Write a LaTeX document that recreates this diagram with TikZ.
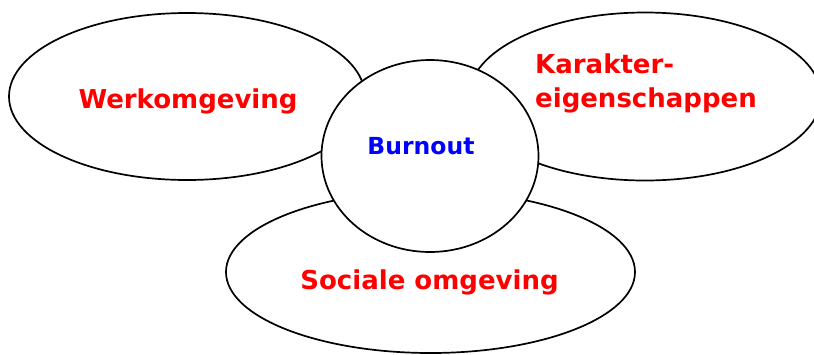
\documentclass[tikz,border=0pt]{standalone}
\usepackage{fontspec}
\setmainfont{DejaVu Sans}
\usetikzlibrary{shapes.geometric}

\definecolor{labelred}{RGB}{255,0,0}
\definecolor{labelblue}{RGB}{0,0,255}

\tikzset{
  blob/.style={draw=black, line width=1.7pt, fill=white, ellipse, inner sep=0pt},
  factor/.style={text=labelred, font=\fontsize{26}{34}\selectfont\bfseries, inner sep=0pt},
  core/.style={text=labelblue, font=\fontsize{23.5}{28}\selectfont\bfseries, inner sep=0pt}
}

\begin{document}
\begin{tikzpicture}[x=1pt, y=-1pt]
  \useasboundingbox (0,0) rectangle (814,354);
  \clip (0,0) rectangle (814,354);

  % three surrounding factors
  \node[blob, minimum width=356pt, minimum height=167pt] (werk) at (187,96.5) {};
  \node[blob, minimum width=352pt, minimum height=168pt] (kar) at (645,96.5) {};
  \node[blob, minimum width=409pt, minimum height=162pt] (soc) at (430.5,272) {};

  % central circle on top
  \node[blob, minimum width=217pt, minimum height=192pt] (burn) at (430,156) {};

  % labels
  \node[factor, anchor=base] (werkT) at (188,108) {Werkomgeving};
  \node[factor, anchor=west, align=left] (karT) at (535,83) {Karakter-\\eigenschappen};
  \node[factor, anchor=base] (socT) at (429.5,289) {Sociale omgeving};
  \node[core, anchor=base] (burnT) at (421,154) {Burnout};
\end{tikzpicture}
\end{document}
